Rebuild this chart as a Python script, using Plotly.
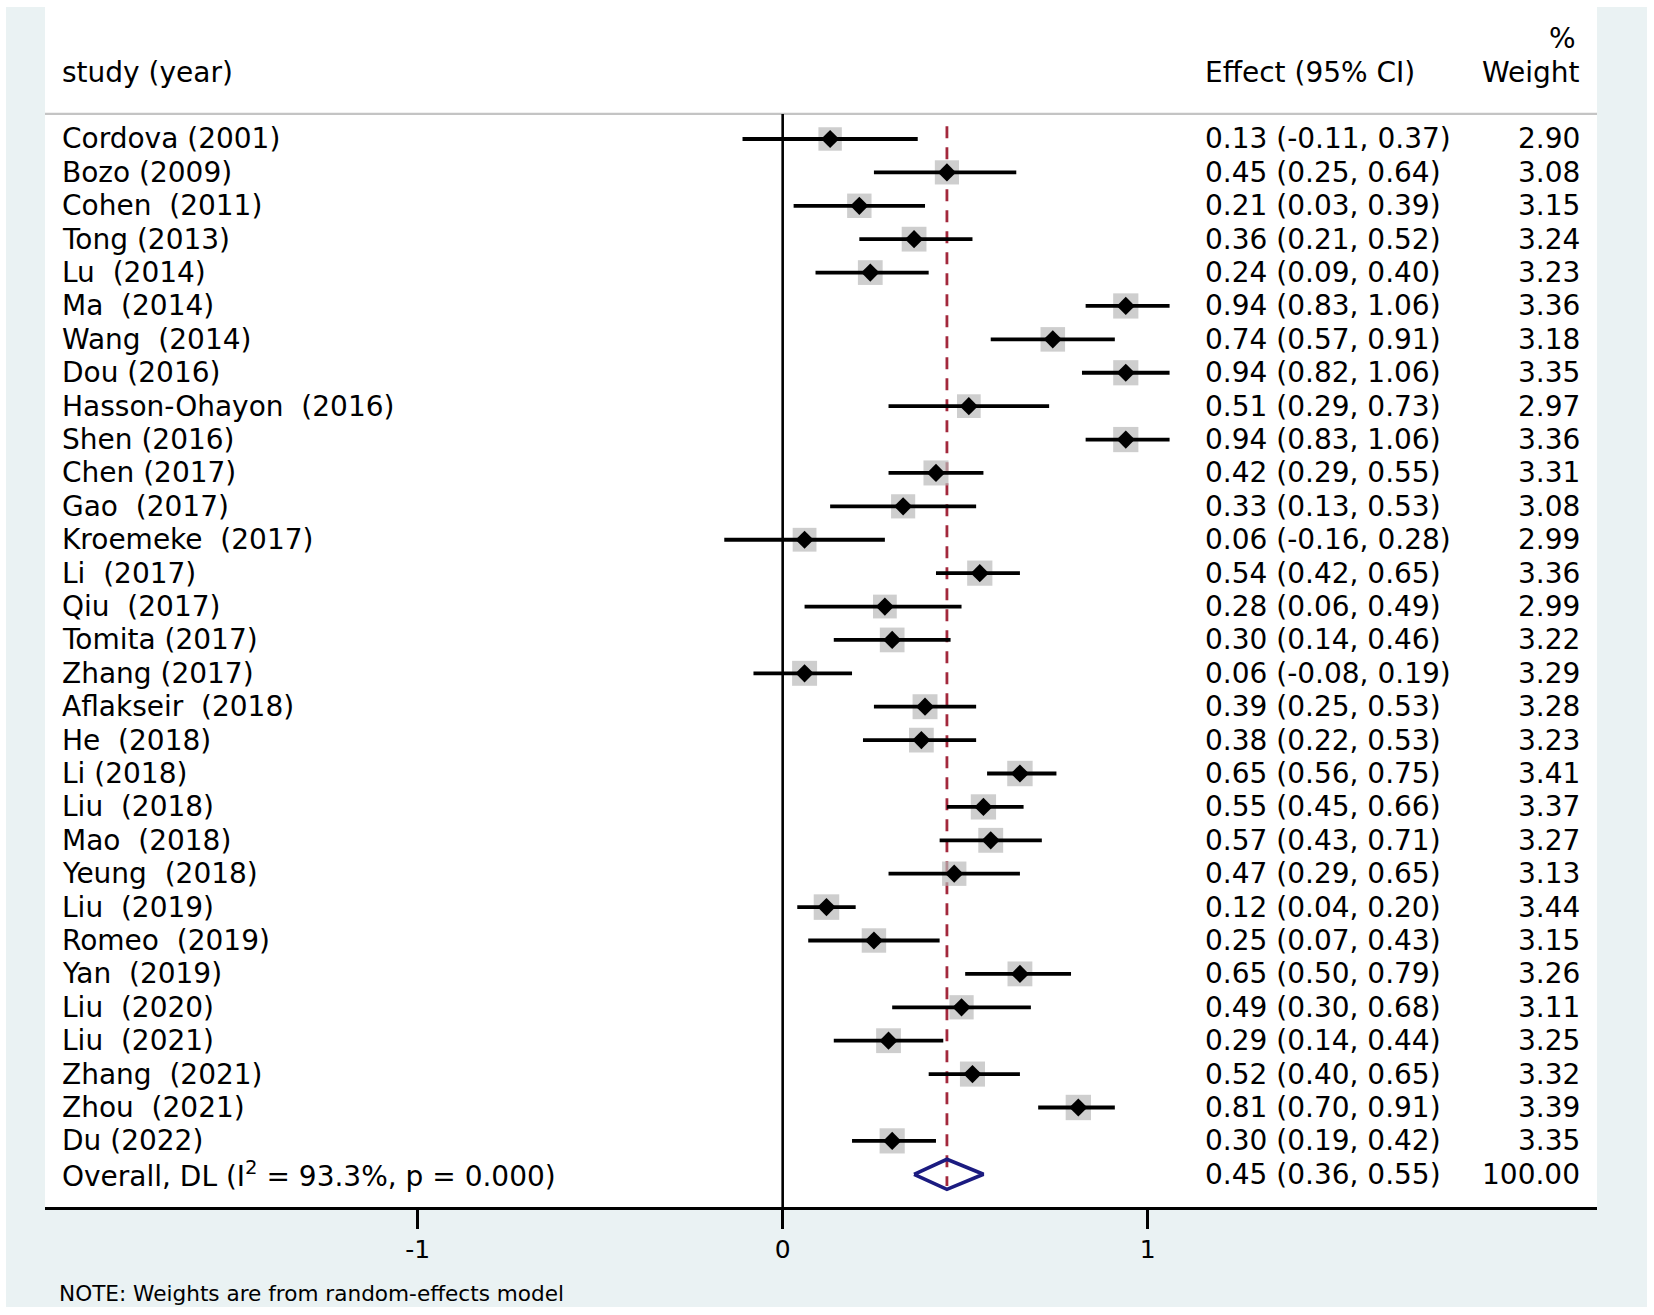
import plotly.graph_objects as go
import math

# ---------------- data ----------------
studies = ["Cordova (2001)", "Bozo (2009)", "Cohen\u00a0 (2011)", "Tong (2013)", "Lu\u00a0 (2014)",
           "Ma\u00a0 (2014)", "Wang\u00a0 (2014)", "Dou (2016)", "Hasson-Ohayon\u00a0 (2016)", "Shen (2016)",
           "Chen (2017)", "Gao\u00a0 (2017)", "Kroemeke\u00a0 (2017)", "Li\u00a0 (2017)", "Qiu\u00a0 (2017)",
           "Tomita (2017)", "Zhang (2017)", "Aflakseir\u00a0 (2018)", "He\u00a0 (2018)", "Li (2018)",
           "Liu\u00a0 (2018)", "Mao\u00a0 (2018)", "Yeung\u00a0 (2018)", "Liu\u00a0 (2019)", "Romeo\u00a0 (2019)",
           "Yan\u00a0 (2019)", "Liu\u00a0 (2020)", "Liu\u00a0 (2021)", "Zhang\u00a0 (2021)", "Zhou\u00a0 (2021)",
           "Du (2022)"]
effect = [0.13, 0.45, 0.21, 0.36, 0.24, 0.94, 0.74, 0.94, 0.51, 0.94,
          0.42, 0.33, 0.06, 0.54, 0.28, 0.30, 0.06, 0.39, 0.38, 0.65,
          0.55, 0.57, 0.47, 0.12, 0.25, 0.65, 0.49, 0.29, 0.52, 0.81, 0.30]
lower = [-0.11, 0.25, 0.03, 0.21, 0.09, 0.83, 0.57, 0.82, 0.29, 0.83,
         0.29, 0.13, -0.16, 0.42, 0.06, 0.14, -0.08, 0.25, 0.22, 0.56,
         0.45, 0.43, 0.29, 0.04, 0.07, 0.50, 0.30, 0.14, 0.40, 0.70, 0.19]
upper = [0.37, 0.64, 0.39, 0.52, 0.40, 1.06, 0.91, 1.06, 0.73, 1.06,
         0.55, 0.53, 0.28, 0.65, 0.49, 0.46, 0.19, 0.53, 0.53, 0.75,
         0.66, 0.71, 0.65, 0.20, 0.43, 0.79, 0.68, 0.44, 0.65, 0.91, 0.42]
weight = [2.90, 3.08, 3.15, 3.24, 3.23, 3.36, 3.18, 3.35, 2.97, 3.36,
          3.31, 3.08, 2.99, 3.36, 2.99, 3.22, 3.29, 3.28, 3.23, 3.41,
          3.37, 3.27, 3.13, 3.44, 3.15, 3.26, 3.11, 3.25, 3.32, 3.39, 3.35]

overall_label = "Overall, DL (I<sup>2</sup> = 93.3%, p = 0.000)"
overall_effect = 0.45
overall_lower = 0.36
overall_upper = 0.55
overall_weight = "100.00"

tick_vals = [-1, 0, 1]
tick_text = ["-1", "0", "1"]
null_value = 0

header_study = "study (year)"
header_effect = "Effect (95% CI)"
header_pct = "%"
header_weight = "Weight"
note_text = "NOTE: Weights are from random-effects model"

# ---------------- layout constants ----------------
W, H = 1654, 1315
ML, MR, MT, MB = 45, 57, 7, 108
FONT = "DejaVu Sans"
FS = 28
BG = "#EAF2F3"

n = len(studies)
rows = list(range(n))
overall_row = n

fig = go.Figure()

# weight boxes
box_sizes = [25 * math.sqrt(w / 3.3) for w in weight]
fig.add_trace(go.Scatter(x=effect, y=rows, mode="markers",
                         marker=dict(symbol="square", size=box_sizes, color="#B9B9B9",
                                     line=dict(width=0)),
                         hoverinfo="skip", showlegend=False))

# CI lines
cx, cy = [], []
for lo, hi, r in zip(lower, upper, rows):
    cx += [lo, hi, None]
    cy += [r, r, None]
fig.add_trace(go.Scatter(x=cx, y=cy, mode="lines", line=dict(color="black", width=3.8),
                         hoverinfo="skip", showlegend=False))

# point estimates
fig.add_trace(go.Scatter(x=effect, y=rows, mode="markers",
                         marker=dict(symbol="diamond", size=14, color="black", line=dict(width=0)),
                         hoverinfo="skip", showlegend=False))

# overall diamond
dh = 0.45
fig.add_trace(go.Scatter(
    x=[overall_lower, overall_effect, overall_upper, overall_effect, overall_lower],
    y=[overall_row, overall_row - dh, overall_row, overall_row + dh, overall_row],
    mode="lines", line=dict(color="#1B1B80", width=3.6),
    hoverinfo="skip", showlegend=False))

shapes = []
# outer grey graph region + white plot region
shapes.append(dict(type="rect", xref="paper", yref="paper",
                   x0=(6 - ML) / (W - ML - MR), x1=(1647 - ML) / (W - ML - MR),
                   y0=-(1307 - (H - MB)) / (H - MT - MB), y1=1.0,
                   fillcolor=BG, line=dict(width=0), layer="below"))
shapes.append(dict(type="rect", xref="paper", yref="paper", x0=0, x1=1, y0=0, y1=1,
                   fillcolor="white", line=dict(width=0), layer="below"))
# header separator
sep_row = -0.75
shapes.append(dict(type="line", xref="paper", yref="y", x0=0, x1=1, y0=sep_row, y1=sep_row,
                   line=dict(color="#C4C4C4", width=2.2), layer="below"))
# null line
shapes.append(dict(type="line", xref="x", yref="y", x0=null_value, x1=null_value,
                   y0=sep_row, y1=31.98, line=dict(color="black", width=2.6), layer="below"))
# overall dashed line
shapes.append(dict(type="line", xref="x", yref="y", x0=overall_effect, x1=overall_effect,
                   y0=-0.38, y1=overall_row + 0.35,
                   line=dict(color="#A3283C", width=2.8, dash="12px,9px"), layer="below"))

annotations = []
X_STUDY = -1.981
X_EFFECT = 1.1516
X_WEIGHT = 2.189


def txt(x, y, s, anchor="left", size=FS):
    annotations.append(dict(x=x, y=y, xref="x", yref="y", text=s, showarrow=False,
                            xanchor=anchor, yanchor="middle",
                            font=dict(family=FONT, size=size, color="black")))


for r, s, e, lo, hi, w in zip(rows, studies, effect, lower, upper, weight):
    txt(X_STUDY, r, s)
    txt(X_EFFECT, r, f"{e:.2f} ({lo:.2f}, {hi:.2f})")
    txt(X_WEIGHT, r, f"{w:.2f}", anchor="right")

txt(X_STUDY, overall_row, overall_label)
txt(X_EFFECT, overall_row, f"{overall_effect:.2f} ({overall_lower:.2f}, {overall_upper:.2f})")
txt(X_WEIGHT, overall_row, overall_weight, anchor="right")

# headers
txt(X_STUDY, -2.0, header_study)
txt(X_EFFECT, -2.0, header_effect)
txt(X_WEIGHT, -2.0, header_weight, anchor="right")
txt(X_WEIGHT - 0.01, -3.0, header_pct, anchor="right")

# note
annotations.append(dict(x=(57 - ML) / (W - ML - MR), y=-(1293 - (H - MB)) / (H - MT - MB),
                        xref="paper", yref="paper", text=note_text, showarrow=False,
                        xanchor="left", yanchor="middle",
                        font=dict(family=FONT, size=21.6, color="black")))

fig.update_layout(
    width=W, height=H,
    margin=dict(l=ML, r=MR, t=MT, b=MB, pad=0),
    paper_bgcolor="white", plot_bgcolor="white",
    showlegend=False,
    shapes=shapes, annotations=annotations,
    xaxis=dict(range=[-2.021, 2.231], showgrid=False, zeroline=False,
               showline=True, linewidth=3, linecolor="black",
               ticks="outside", ticklen=19, tickwidth=2.5, tickcolor="black",
               tickvals=tick_vals, ticktext=tick_text,
               tickfont=dict(family=FONT, size=25, color="black"),
               ticklabelstandoff=-1, fixedrange=True),
    yaxis=dict(range=[31.98, -3.952], visible=False, showgrid=False, zeroline=False,
               fixedrange=True),
)

fig.write_html("out.html", config={"displayModeBar": False},
               post_script="document.body.style.margin='0';document.body.style.padding='0';")
